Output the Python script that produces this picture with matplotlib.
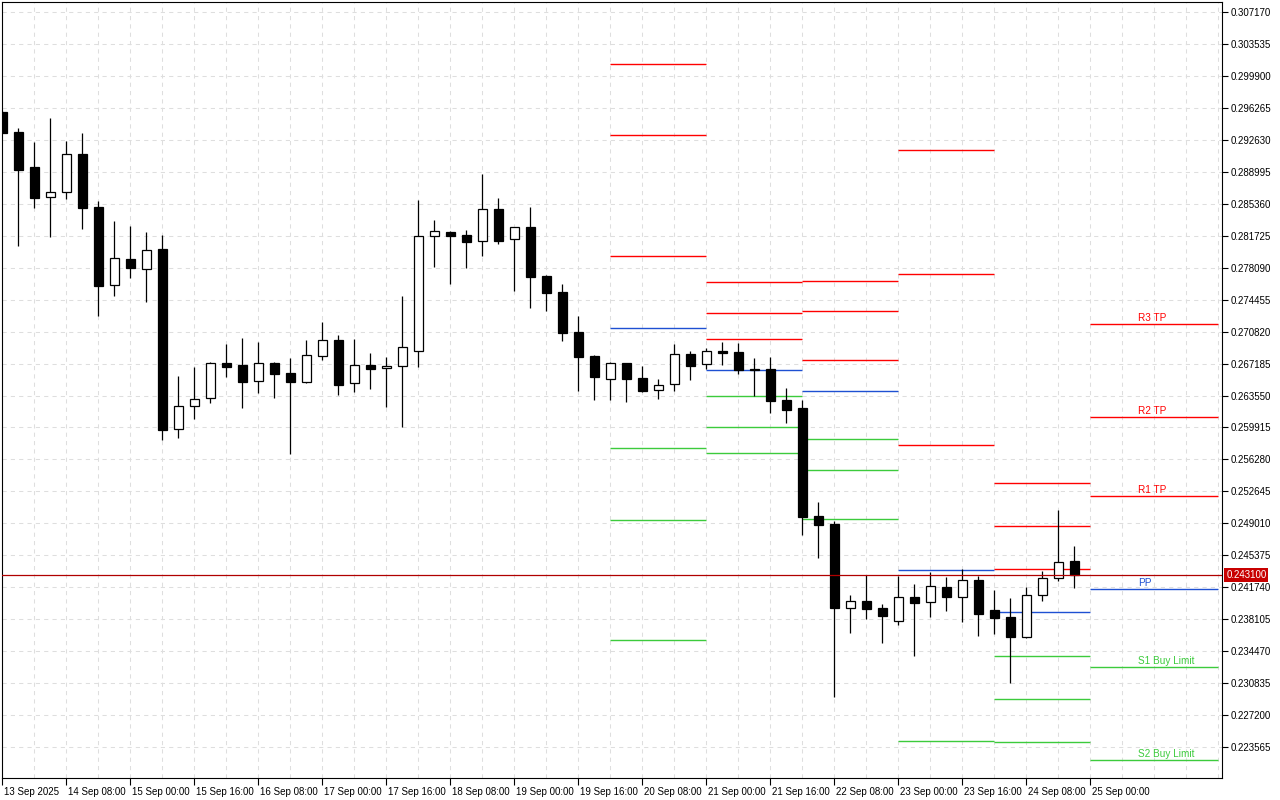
import matplotlib
matplotlib.use("Agg")
import matplotlib.pyplot as plt
import numpy as np
from matplotlib.transforms import blended_transform_factory, ScaledTranslation

plt.rcParams['font.family'] = ['Liberation Sans', 'DejaVu Sans']

# ---- H4 candles (13 Sep 2025 16:00 ... 24 Sep 2025 20:00) ----
opens = [0.29580, 0.29352, 0.28954, 0.28613, 0.28670, 0.29102, 0.28499, 0.27612, 0.27908, 0.27794,
         0.28021, 0.25974, 0.26236, 0.26327, 0.26725, 0.26702, 0.26520, 0.26725, 0.26611, 0.26509,
         0.26804, 0.26986, 0.26497, 0.26702, 0.26668, 0.26691, 0.26861, 0.28169, 0.28215, 0.28181,
         0.28112, 0.28476, 0.28135, 0.28272, 0.27714, 0.27532, 0.27077, 0.26804, 0.26543, 0.26725,
         0.26554, 0.26418, 0.26486, 0.26827, 0.26713, 0.26861, 0.26850, 0.26657, 0.26657, 0.26304,
         0.26213, 0.24985, 0.24894, 0.23938, 0.24018, 0.23938, 0.23790, 0.24063, 0.24006, 0.24177,
         0.24063, 0.24257, 0.23915, 0.23836, 0.23608, 0.24086, 0.24279, 0.24473]
highs = [0.29591, 0.29398, 0.29238, 0.29511, 0.29250, 0.29341, 0.28567, 0.28340, 0.28283, 0.28215,
         0.28181, 0.26577, 0.26679, 0.26736, 0.26941, 0.27009, 0.26964, 0.26736, 0.26782, 0.26986,
         0.27191, 0.27043, 0.26998, 0.26839, 0.26793, 0.27487, 0.28579, 0.28351, 0.28226, 0.28238,
         0.28874, 0.28601, 0.28272, 0.28499, 0.27726, 0.27623, 0.27259, 0.26816, 0.26736, 0.26725,
         0.26691, 0.26543, 0.26941, 0.26861, 0.26895, 0.26964, 0.26952, 0.26782, 0.26793, 0.26440,
         0.26304, 0.25144, 0.24928, 0.24086, 0.24313, 0.23984, 0.24302, 0.24211, 0.24348, 0.24291,
         0.24382, 0.24302, 0.24143, 0.24052, 0.24177, 0.24359, 0.25053, 0.24643]
lows = [0.29340, 0.28056, 0.28488, 0.28158, 0.28590, 0.28249, 0.27259, 0.27487, 0.27692, 0.27419,
        0.25849, 0.25872, 0.26088, 0.26270, 0.26566, 0.26213, 0.26384, 0.26327, 0.25690, 0.26497,
        0.26759, 0.26361, 0.26395, 0.26429, 0.26224, 0.25997, 0.26679, 0.27817, 0.27623, 0.27805,
        0.27942, 0.28078, 0.27544, 0.27350, 0.27316, 0.26975, 0.26406, 0.26304, 0.26304, 0.26281,
        0.26395, 0.26315, 0.26406, 0.26531, 0.26657, 0.26702, 0.26600, 0.26349, 0.26156, 0.26042,
        0.24768, 0.24507, 0.22926, 0.23654, 0.23813, 0.23540, 0.23745, 0.23392, 0.23836, 0.23904,
        0.23779, 0.23620, 0.23642, 0.23085, 0.23597, 0.24018, 0.24245, 0.24166]
closes = [0.29344, 0.28920, 0.28601, 0.28670, 0.29102, 0.28488, 0.27601, 0.27919, 0.27805, 0.28010,
          0.25963, 0.26236, 0.26315, 0.26725, 0.26679, 0.26509, 0.26725, 0.26600, 0.26509, 0.26816,
          0.26986, 0.26475, 0.26702, 0.26657, 0.26691, 0.26907, 0.28169, 0.28226, 0.28169, 0.28101,
          0.28476, 0.28112, 0.28272, 0.27703, 0.27521, 0.27066, 0.26793, 0.26566, 0.26725, 0.26543,
          0.26406, 0.26475, 0.26827, 0.26691, 0.26861, 0.26844, 0.26645, 0.26645, 0.26293, 0.26190,
          0.24973, 0.24882, 0.23938, 0.24018, 0.23927, 0.23847, 0.24063, 0.23995, 0.24188, 0.24063,
          0.24257, 0.23870, 0.23824, 0.23608, 0.24086, 0.24279, 0.24461, 0.24310]

# ---- daily pivot levels (bar index where each day starts / ends) ----
day_start = [38, 44, 50, 56, 62, 68]
day_end = [44, 50, 56, 62, 68, 76]
r3 = [0.30126, 0.27646, 0.27657, 0.29147, 0.25360, 0.27168]
r2 = [0.29318, 0.27293, 0.27316, 0.27737, 0.24871, 0.26111]
r1 = [0.27942, 0.26998, 0.26759, 0.25792, 0.24382, 0.25212]
pp = [0.27123, 0.26645, 0.26406, 0.24370, 0.23893, 0.24154]
s1 = [0.25758, 0.26349, 0.25860, 0.22425, 0.23392, 0.23267]
s2 = [0.24939, 0.25997, 0.25508, None, 0.22903, 0.22209]
s3 = [0.23574, 0.25701, 0.24950, None, 0.22414, None]
last_labels = ["R3 TP", "R2 TP", "R1 TP", "PP", "S1 Buy Limit", "S2 Buy Limit"]

current_price = 0.24310

x_tick_labels = ["13 Sep 2025", "14 Sep 08:00", "15 Sep 00:00", "15 Sep 16:00", "16 Sep 08:00",
                 "17 Sep 00:00", "17 Sep 16:00", "18 Sep 08:00", "19 Sep 00:00", "19 Sep 16:00",
                 "20 Sep 08:00", "21 Sep 00:00", "21 Sep 16:00", "22 Sep 08:00", "23 Sep 00:00",
                 "23 Sep 16:00", "24 Sep 08:00", "25 Sep 00:00"]
y_ticks = [0.307170, 0.303535, 0.299900, 0.296265, 0.292630, 0.288995, 0.285360, 0.281725,
           0.278090, 0.274455, 0.270820, 0.267185, 0.263550, 0.259915, 0.256280, 0.252645,
           0.249010, 0.245375, 0.241740, 0.238105, 0.234470, 0.230835, 0.227200, 0.223565]

RED = '#FF0000'
BLUE = '#1E50D2'
GREEN = '#3CCB3C'

fig = plt.figure(figsize=(12.8, 8), dpi=100, facecolor='white')
ax = fig.add_axes([2 / 1280, 22 / 800, 1220 / 1280, 776 / 800])
ax.set_facecolor('white')

o = np.array(opens); c = np.array(closes); h = np.array(highs); l = np.array(lows)
idx = np.arange(len(o))
up = c >= o

ax.vlines(idx, l, h, color='black', lw=0.9, zorder=3)
ax.bar(idx, np.abs(c - o), width=0.62, bottom=np.minimum(o, c),
       color=np.where(up, 'white', 'black'), edgecolor='black', linewidth=0.9, zorder=4)

levels = [(r3, RED), (r2, RED), (r1, RED), (pp, BLUE), (s1, GREEN), (s2, GREEN), (s3, GREEN)]
for vals, col in levels:
    for v, a, b in zip(vals, day_start, day_end):
        if v is not None:
            ax.hlines(v, a, b, color=col, lw=1.0, zorder=2)

label_vals = [r3[-1], r2[-1], r1[-1], pp[-1], s1[-1], s2[-1]]
label_cols = [RED, RED, RED, BLUE, GREEN, GREEN]
for txt, v, col in zip(last_labels, label_vals, label_cols):
    ax.annotate(txt, xy=(71, v), xytext=(0, 2.2), textcoords='offset points',
                color=col, fontsize=7.2, ha='left', va='baseline', zorder=5)

ax.axhline(current_price, color='#B00000', lw=0.9, zorder=5)
trans = blended_transform_factory(ax.transAxes, ax.transData)
ax.text(1.0035, current_price, '0.243100', transform=trans, ha='left', va='center',
        color='white', fontsize=7.0, zorder=6, clip_on=False,
        bbox=dict(boxstyle='square,pad=0.2', fc='#C80000', ec='none'))

ax.set_xlim(-0.03, 76.22)
ax.set_ylim(0.22005, 0.30831)

ax.set_xticks(np.arange(0, 4 * len(x_tick_labels), 4))
ax.set_xticklabels(x_tick_labels)
ax.set_xticks(np.arange(0, 77, 2), minor=True)
ax.set_yticks(y_ticks)
ax.set_yticklabels([f"{v:.6f}" for v in y_ticks])

ax.yaxis.tick_right()
ax.tick_params(axis='y', which='major', direction='out', length=4, width=0.8,
               labelsize=7.0, pad=2, colors='black')
ax.tick_params(axis='x', which='major', direction='out', length=5, width=0.8,
               labelsize=7.0, pad=1.5, colors='black')
ax.tick_params(axis='x', which='minor', length=0)

offset = ScaledTranslation(2 / 100, 0, fig.dpi_scale_trans)
for lab in ax.get_xticklabels():
    lab.set_ha('left')
    lab.set_transform(lab.get_transform() + offset)

grid_kw = dict(color='#DEDEDE', lw=0.75, linestyle=(0, (4, 4)))
ax.grid(True, which='major', axis='y', **grid_kw)
ax.grid(True, which='both', axis='x', **grid_kw)
ax.set_axisbelow(True)

for sp in ax.spines.values():
    sp.set_color('black')
    sp.set_linewidth(0.8)

fig.savefig('out.png', dpi=100, facecolor='white')
